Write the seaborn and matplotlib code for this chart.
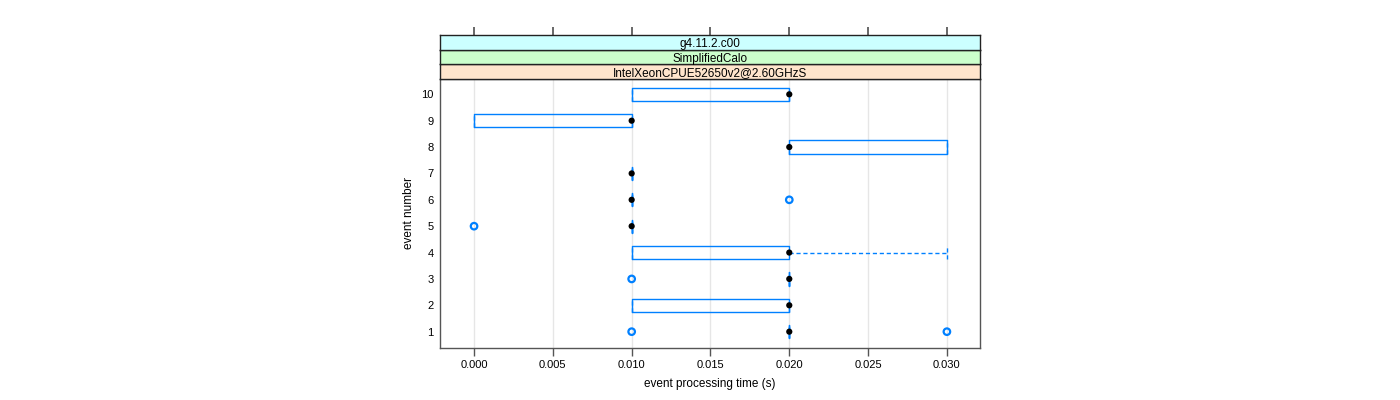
import numpy as np
import pandas as pd
import matplotlib
matplotlib.use("Agg")
import matplotlib.pyplot as plt
import seaborn as sns

# per-event summary of processing time (s)
events = [1, 2, 3, 4, 5, 6, 7, 8, 9, 10]
q1 = [0.02, 0.01, 0.02, 0.01, 0.01, 0.01, 0.01, 0.02, 0.00, 0.01]
median = [0.02, 0.02, 0.02, 0.02, 0.01, 0.01, 0.01, 0.02, 0.01, 0.02]
q3 = [0.02, 0.02, 0.02, 0.02, 0.01, 0.01, 0.01, 0.03, 0.01, 0.02]
whisker_lo = [0.02, 0.01, 0.02, 0.01, 0.01, 0.01, 0.01, 0.02, 0.00, 0.01]
whisker_hi = [0.02, 0.02, 0.02, 0.03, 0.01, 0.01, 0.01, 0.03, 0.01, 0.02]
outlier_event = [1, 1, 3, 5, 6]
outlier_time = [0.01, 0.03, 0.01, 0.00, 0.02]

strip_labels = ["IntelXeonCPUE52650v2@2.60GHzS", "SimplifiedCalo", "g4.11.2.c00"]
strip_colors = ["#ffe5cc", "#ccffcc", "#ccffff"]
xticks = [0.000, 0.005, 0.010, 0.015, 0.020, 0.025, 0.030]

BLUE = "#0080ff"
EDGE = "#555555"

sns.set_theme(style="white")
plt.rcParams["font.family"] = ["Liberation Sans", "DejaVu Sans"]
plt.rcParams["font.size"] = 8
plt.rcParams["text.color"] = "black"
plt.rcParams["axes.labelcolor"] = "black"
plt.rcParams["xtick.color"] = "black"
plt.rcParams["ytick.color"] = "black"

fig = plt.figure(figsize=(14, 4), dpi=100)
ax = fig.add_axes([440 / 1400, 1 - 347.5 / 400, 540 / 1400, 269 / 400])

xlim = (-0.00216, 0.0321)
ylim = (0.4, 10.6)

for t in xticks:
    ax.axvline(t, color="#e6e6e6", lw=1, zorder=0)

stats = []
for i in range(len(events)):
    stats.append({"med": median[i], "q1": q1[i], "q3": q3[i],
                  "whislo": whisker_lo[i], "whishi": whisker_hi[i], "fliers": []})

ax.bxp(stats, positions=events, widths=0.5, capwidths=0.5,
       orientation="horizontal", showfliers=False, manage_ticks=False,
       boxprops=dict(color=BLUE, lw=1),
       whiskerprops=dict(color=BLUE, lw=1, linestyle=(0, (3, 2))),
       capprops=dict(color=BLUE, lw=1, linestyle=(0, (3, 2))),
       medianprops=dict(visible=False))

out_df = pd.DataFrame({"time": outlier_time, "event": outlier_event})
sns.scatterplot(data=out_df, x="time", y="event", ax=ax, marker="o",
                facecolor="none", edgecolor=BLUE, linewidth=1.6, s=22, zorder=3)

med_df = pd.DataFrame({"time": median, "event": events})
sns.scatterplot(data=med_df, x="time", y="event", ax=ax, color="black",
                edgecolor="none", s=20, zorder=4)

ax.set_xlim(xlim)
ax.set_ylim(ylim)
ax.set_xticks(xticks)
ax.set_xticklabels([f"{t:.3f}" for t in xticks])
ax.set_yticks(events)
ax.set_yticklabels([str(e) for e in events])
ax.tick_params(axis="x", direction="out", length=6, width=1, color=EDGE,
               labelsize=8, pad=3, bottom=True)
ax.tick_params(axis="y", left=False, length=0, labelsize=8, pad=4.5)
ax.set_xlabel("event processing time (s)", fontsize=8.5, labelpad=6)
ax.set_ylabel("event number", fontsize=8.5, labelpad=4.5)
for s in ax.spines.values():
    s.set_color(EDGE)
    s.set_linewidth(1)

# strips stacked above the panel
strip_h = 14.5 / 400
bottom = 1 - 78.5 / 400
for k, (lab, col) in enumerate(zip(strip_labels, strip_colors)):
    sax = fig.add_axes([440 / 1400, bottom + k * strip_h, 540 / 1400, strip_h])
    sax.set_facecolor(col)
    sax.set_xlim(xlim)
    sax.set_ylim(0, 1)
    sax.set_yticks([])
    sax.text(0.5, 0.45, lab, transform=sax.transAxes, ha="center",
             va="center_baseline", fontsize=8.5)
    for s in sax.spines.values():
        s.set_color("#222222")
        s.set_linewidth(1)
    if k == len(strip_labels) - 1:
        sax.set_xticks(xticks)
        sax.tick_params(axis="x", top=True, bottom=False, labeltop=False,
                        labelbottom=False, direction="out", length=6,
                        color=EDGE)
    else:
        sax.set_xticks([])

fig.savefig("out.png", dpi=100)
